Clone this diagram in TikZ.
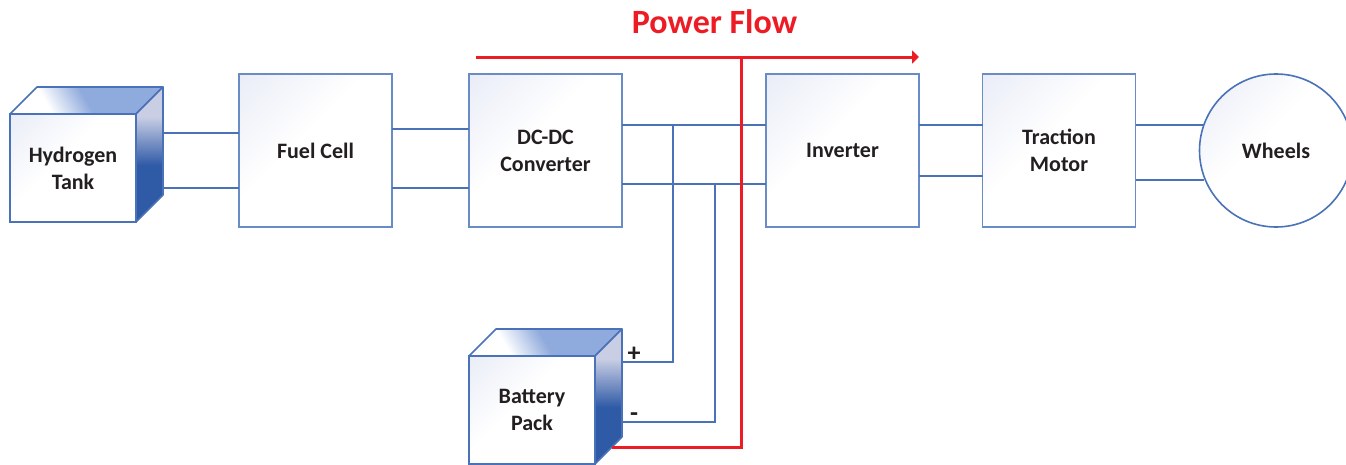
\documentclass[tikz,border=0pt]{standalone}
\usepackage{fontspec}
\setmainfont{Carlito}
\usepackage{tikz}
\usetikzlibrary{arrows.meta}
\definecolor{wireColor}{HTML}{4A72B8}
\definecolor{edgeColor}{HTML}{6A8CC6}
\definecolor{flowColor}{HTML}{ED1C24}
\definecolor{labelColor}{HTML}{231F20}
\definecolor{faceTint}{HTML}{EAEDF7}
\definecolor{topBlue}{HTML}{8FAADC}
\definecolor{sideLight}{HTML}{C9CEE4}
\definecolor{sideDark}{HTML}{2F5AA6}
\pgfdeclareverticalshading{faceShade}{100bp}{color(0bp)=(white); color(56bp)=(white); color(85bp)=(faceTint); color(100bp)=(faceTint)}
\pgfdeclareverticalshading{topShade}{100bp}{color(0bp)=(white); color(33bp)=(white); color(50bp)=(topBlue); color(100bp)=(topBlue)}
\pgfdeclareverticalshading{sideShade}{100bp}{color(0bp)=(sideDark); color(46bp)=(sideDark); color(64bp)=(sideLight); color(100bp)=(sideLight)}
\tikzstyle{diagram} = [x = 1pt, y = -1pt]
\tikzstyle{wireLine} = [color=wireColor, line width=1.6pt]
\tikzstyle{flowLine} = [color=flowColor, line width=3pt]
\tikzstyle{blockStyle} = [draw=edgeColor, line width=1.6pt, shading=faceShade, shading angle=45, outer sep=0pt, align=center, font=\fontsize{22}{27}\selectfont\bfseries, text=labelColor]
\tikzstyle{moduleStyle} = [blockStyle, rectangle, minimum width=153pt, minimum height=153pt]
\tikzstyle{cubeStyle} = [blockStyle, rectangle, draw=wireColor, minimum width=126pt, minimum height=108pt]
\tikzstyle{wheelStyle} = [blockStyle, circle, draw=wireColor, minimum size=153pt, inner sep=0pt]
\tikzstyle{cubeEdge} = [draw=wireColor, line width=1.6pt, line join=round]
\tikzstyle{polarityText} = [font=\fontsize{26}{26}\selectfont\bfseries, text=labelColor]
% top and side faces of a box, behind the front node
\newcommand{\cubeFaces}[1]{
  \coordinate (#1Back) at ([shift={(27,-27)}]#1.north east);
  \filldraw [cubeEdge, shading=topShade, shading angle=-60] (#1.north west) -- ++(27,-27) -- (#1Back) -- (#1.north east) -- cycle;
  \filldraw [cubeEdge, shading=sideShade] (#1.north east) -- (#1Back) -- ([shift={(27,-27)}]#1.south east) -- (#1.south east) -- cycle;
}
\newcommand{\wirePair}[4]{
  \draw [wireLine] (#1 |- 0,#3) -- (#2 |- 0,#3);
  \draw [wireLine] (#1 |- 0,#4) -- (#2 |- 0,#4);
}
\begin{document}
\begin{tikzpicture}[diagram]
  \useasboundingbox (0,0) rectangle (1346,464);
  \clip (0,0) rectangle (1346,464);

  \node [moduleStyle] (fuelCell) at (315.5,150.5) {\raisebox{-1pt}{Fuel Cell}};
  \node [moduleStyle] (dcConverter) at (545.5,150.5) {DC-DC\\Converter};
  \node [moduleStyle] (inverter) at (842.5,150.5) {\raisebox{-1.5pt}{Inverter}};
  \node [moduleStyle] (tractionMotor) at (1059,150.5) {Traction\\Motor};
  \node [wheelStyle] (wheels) at (1276,150.5) {\raisebox{-1pt}{Wheels}};
  \node [cubeStyle] (hydrogenTank) at (73,168) {Hydrogen\\Tank};
  \node [cubeStyle] (batteryPack) at (532,410) {\raisebox{-2pt}{Battery}\\\raisebox{-2pt}{Pack}};
  \cubeFaces{hydrogenTank}
  \cubeFaces{batteryPack}

  \coordinate (plusTap) at (673,125);
  \coordinate (minusTap) at (715,184);
  \coordinate (wheelTap) at (1204,150);
  \coordinate (batteryTap) at (612,447);
  \coordinate (flowStart) at (476,57);
  \coordinate (flowEnd) at (919,57);
  \coordinate (flowTurn) at (741,57);

  \wirePair{hydrogenTankBack}{fuelCell.west}{133}{188}
  \wirePair{fuelCell.east}{dcConverter.west}{129}{188}
  \wirePair{dcConverter.east}{inverter.west}{125}{184}
  \wirePair{inverter.east}{tractionMotor.west}{125}{176}
  \wirePair{tractionMotor.east}{wheelTap}{125}{180}
  \draw [wireLine] (batteryPackBack |- 0,362) -| (plusTap);
  \draw [wireLine] (batteryPackBack |- 0,422) -| (minusTap);

  \draw [flowLine] (batteryTap) -| (flowTurn);
  \draw [flowLine, -{Triangle[length=7pt, width=13pt]}] (flowStart) -- (flowEnd);

  \node [polarityText] (plusLabel) at (634,354.5) {+};
  \node [polarityText] (minusLabel) at (634,417.5) {-};
  \node [font=\fontsize{34}{34}\selectfont\bfseries, text=flowColor] (flowLabel) at (714.5,22) {Power Flow};
\end{tikzpicture}
\end{document}
